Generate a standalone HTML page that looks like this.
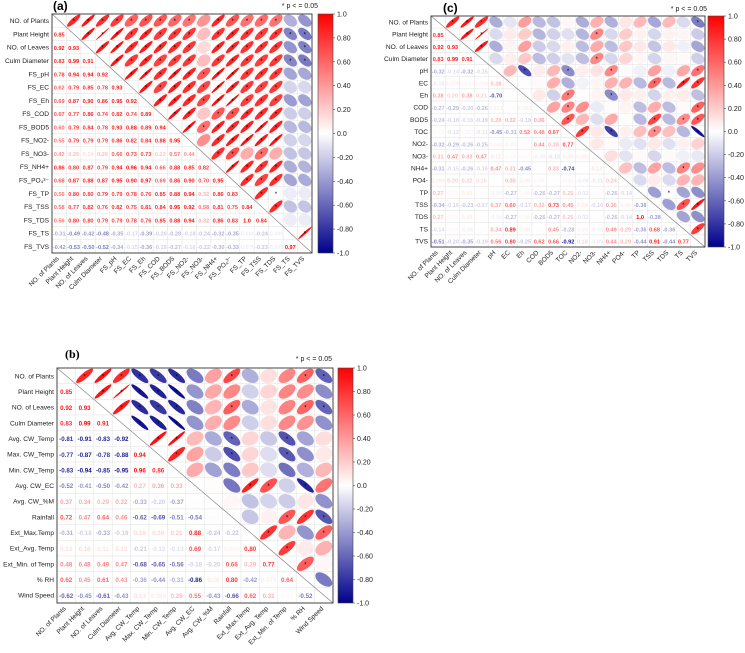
<!DOCTYPE html>
<html><head><meta charset="utf-8">
<style>
html,body{margin:0;padding:0;background:#fff;}
svg{display:block;font-family:"Liberation Sans",Arial,sans-serif;}
</style></head>
<body>
<svg id="fig" width="745" height="653" viewBox="0 0 745 653" xmlns="http://www.w3.org/2000/svg"></svg>
<script>
// ---------- Panel (a) data ----------
const labelsA = ["NO. of Plants","Plant Height","NO. of Leaves","Culm Diameter","FS_pH","FS_EC","FS_Eh","FS_COD","FS_BOD5","FS_NO2-","FS_NO3-","FS_NH4+","FS_PO\u2084\u00b3\u207b","FS_TP","FS_TSS","FS_TDS","FS_TS","FS_TVS"];
const lowerA = [
[],
[.85],
[.92,.93],
[.83,.99,.91],
[.78,.94,.94,.92],
[.62,.79,.85,.78,.93],
[.69,.87,.90,.86,.95,.92],
[.67,.77,.86,.74,.82,.74,.89],
[.60,.79,.84,.78,.93,.88,.89,.94],
[.55,.79,.79,.79,.86,.82,.84,.88,.95],
[.42,.25,.14,.26,.66,.73,.73,.22,.57,.44],
[.86,.80,.87,.79,.94,.96,.94,.66,.88,.85,.82],
[.68,.87,.88,.87,.95,.90,.97,.69,.86,.90,.70,.95],
[.56,.80,.80,.79,.79,.78,.76,.85,.88,.94,.32,.86,.83],
[.58,.77,.82,.76,.82,.75,.81,.84,.95,.92,.58,.81,.75,.84],
[.56,.80,.80,.79,.79,.78,.76,.85,.88,.94,.32,.86,.83,1.0,.84],
[-.31,-.49,-.42,-.48,-.35,-.17,-.39,-.20,-.28,-.18,-.24,-.32,-.35,-.069,-.24,-.069],
[-.42,-.53,-.50,-.52,-.34,-.15,-.36,-.19,-.27,-.16,-.22,-.30,-.33,-.076,-.23,-.076,.97]
];
// ---------- Panel (c) data ----------
const labelsC = ["NO. of Plants","Plant Height","NO. of Leaves","Culm Diameter","pH","EC","Eh","COD","BOD5","TOC","NO2-","NO3-","NH4+","PO4-","TP","TSS","TDS","TS","TVS"];
const lowerC = [
[],
[.85],
[.92,.93],
[.83,.99,.91],
[-.32,-.14,-.32,-.15],
[-.10,.078,.043,.066,.28],
[.38,.20,.38,.21,-.70,.005],
[-.27,-.29,-.20,-.26,.071,.020,.081],
[-.24,-.18,-.15,-.19,.28,.32,-.18,.36],
[.030,-.12,.057,-.11,-.45,-.31,.52,.48,.67],
[-.32,-.29,-.26,-.25,.068,-.050,.010,.44,.28,.77],
[.31,.47,.33,.47,.11,.040,.040,-.080,-.13,.090,.091],
[-.31,-.15,-.26,-.16,.47,.31,-.45,.010,.33,-.74,.010,.13],
[.095,.20,.22,.16,.010,.30,.090,.050,.010,.060,-.080,-.11,.24],
[.27,.050,.090,.030,-.060,-.27,.060,-.26,-.27,.25,-.12,.020,-.26,-.14],
[-.34,-.16,-.23,-.17,.37,.60,-.17,.32,.73,.45,.090,-.16,.36,.080,-.38],
[.27,.050,.090,.030,-.060,-.27,.060,-.26,-.27,.25,-.12,.020,-.26,-.14,1.0,-.38],
[-.14,.040,-.060,.020,.34,.89,.080,.020,.45,-.28,.060,-.060,.49,.29,-.36,.68,-.36],
[-.51,-.20,-.35,-.19,.56,.80,-.25,.62,.66,-.92,.18,-.090,.44,.29,-.44,.91,-.44,.77]
];
// ---------- Panel (b) data ----------
const labelsB = ["NO. of Plants","Plant Height","NO. of Leaves","Culm Diameter","Avg. CW_Temp","Max. CW_Temp","Min. CW_Temp","Avg. CW_EC","Avg. CW_%M","Rainfall","Ext_Max.Temp","Ext_Avg. Temp","Ext_Min. of Temp","% RH","Wind Speed"];
const lowerB = [
[],
[.85],
[.92,.93],
[.83,.99,.91],
[-.81,-.91,-.83,-.92],
[-.77,-.87,-.78,-.88,.94],
[-.83,-.94,-.85,-.95,.96,.86],
[-.52,-.41,-.50,-.42,.27,.36,.33],
[.37,.34,.29,.32,-.33,-.20,-.37,.010],
[.72,.47,.64,.46,-.62,-.69,-.51,-.54,.030],
[-.31,-.18,-.33,-.19,.16,.16,.21,.88,-.24,-.22],
[.13,.16,.11,.13,-.21,-.13,-.13,.69,-.17,.054,.80],
[.48,.48,.49,.47,-.68,-.65,-.56,-.18,-.20,.66,.29,.77],
[.62,.45,.61,.43,-.36,-.44,-.31,-.86,.10,.80,-.42,.079,.64],
[-.62,-.45,-.61,-.43,.13,.089,.28,.55,-.43,-.66,.62,.31,.030,-.52]
];
const cbTicks = ["1.0","0.80","0.60","0.40","0.20","0.0","-0.20","-0.40","-0.60","-0.80","-1.0"];

const NS="http://www.w3.org/2000/svg";
const svg=document.getElementById('fig');
function mk(tag,attrs,parent){const e=document.createElementNS(NS,tag);for(const k in attrs)e.setAttribute(k,attrs[k]);(parent||svg).appendChild(e);return e;}
function col(r){
  r=Math.max(-1,Math.min(1,r));
  let c;
  if(r>=0){c=[255,Math.round(255*(1-r)),Math.round(255*(1-r))];}
  else{const t=-r;c=[Math.round(255*(1-t)),Math.round(255*(1-t)),Math.round(255-(255-139)*t)];}
  return `rgb(${c[0]},${c[1]},${c[2]})`;
}
function fmt(v){
  if(Math.abs(v)>=0.995)return v<0?"-1.0":"1.0";
  if(Math.abs(v)<0.1){let s=v.toFixed(3).replace(/0+$/,'');return s;}
  return v.toFixed(2);
}
function val(lower,i,j){const row=lower[i]||[];const v=row[j];return (typeof v==='number')?v:0;}
function full(lower,n){const m=[];for(let i=0;i<n;i++){m.push([]);for(let j=0;j<n;j++){m[i][j]=i===j?1:(i>j?val(lower,i,j):val(lower,j,i));}}return m;}

function panel(cfg){
  const n=cfg.labels.length, M=full(cfg.lower,n);
  const g=mk('g',{});
  
  
  const cw=(cfg.x1-cfg.x0)/n, ch=(cfg.y1-cfg.y0)/n;
  const X=j=>cfg.x0+j*cw, Y=i=>cfg.y0+i*ch;
  for(let i=0;i<n;i++)for(let j=0;j<n;j++){
    const c=mk('rect',{x:X(j),y:Y(i),width:cw,height:ch,fill:'#fff',stroke:'#e4e4e4','stroke-width':0.5},g);
    
    
  }
  for(let i=0;i<n;i++)for(let j=0;j<n;j++){
    const r=M[i][j];
    const cx=X(j)+cw/2, cy=Y(i)+ch/2;
    if(j>i){
      const A=Math.sqrt(1+r),B=Math.sqrt(Math.max(0,1-r));
      let d='';
      for(let k=0;k<=40;k++){const t=k/40*2*Math.PI;
        const px=(A*Math.cos(t)+B*Math.sin(t))/Math.SQRT2, py=(-A*Math.cos(t)+B*Math.sin(t))/Math.SQRT2;
        d+=(k?'L':'M')+(cx+px*0.46*cw).toFixed(2)+' '+(cy+py*0.46*ch).toFixed(2);}
      const e=mk('path',{d:d+'Z',fill:col(r),stroke:'none'},g);
      
      
      if(Math.abs(r)>=cfg.star){
        const s=mk('text',{x:cx,y:cy+2.5,'font-size':6,'text-anchor':'middle',fill:'#000'},g);
        s.textContent='*';
        
        
      }
    } else if(j<i){
      const t=mk('text',{x:cx,y:cy+2.6,'font-size':cfg.fs,'font-weight':'bold','text-anchor':'middle',fill:col(r)},g);
      t.textContent=fmt(r);
      
      
    }
  }
  const dl=mk('line',{x1:cfg.x0,y1:cfg.y0,x2:cfg.x1,y2:cfg.y1,stroke:'#888','stroke-width':0.7},g);
  
  
  const bx=mk('rect',{x:cfg.x0,y:cfg.y0,width:cfg.x1-cfg.x0,height:cfg.y1-cfg.y0,fill:'none',stroke:'#444','stroke-width':1},g);
  
  
  for(let i=0;i<n;i++){
    const t=mk('text',{x:cfg.x0-3,y:Y(i)+ch/2+2.5,'font-size':cfg.lfs,'text-anchor':'end',fill:'#222'},g);
    t.textContent=cfg.labels[i];
    
    
    const bxp=X(i)+cw/2, byp=cfg.y1+6;
    const b=mk('text',{x:bxp,y:byp,'font-size':cfg.lfs,'text-anchor':'end',fill:'#222',transform:`rotate(-45 ${bxp} ${byp})`},g);
    b.textContent=cfg.labels[i];
    
    
  }
  const gid='grad'+cfg.id;
  const defs=mk('defs',{},g);
  const lg=mk('linearGradient',{id:gid,x1:0,y1:0,x2:0,y2:1},defs);
  for(let k=0;k<=20;k++){mk('stop',{offset:(k/20),'stop-color':col(1-k/10)},lg);}
  const cb=mk('rect',{x:cfg.cbx,y:cfg.y0,width:cfg.cbw,height:cfg.y1-cfg.y0,fill:`url(#${gid})`,stroke:'#444','stroke-width':0.6},g);
  
  
  for(let k=0;k<cbTicks.length;k++){
    const ty=cfg.y0+k*(cfg.y1-cfg.y0)/(cbTicks.length-1);
    mk('line',{x1:cfg.cbx+cfg.cbw,y1:ty,x2:cfg.cbx+cfg.cbw+2,y2:ty,stroke:'#444','stroke-width':0.6},g);
    const t=mk('text',{x:cfg.cbx+cfg.cbw+4,y:ty+2.5,'font-size':7,fill:'#222'},g);
    t.textContent=cbTicks[k];
    
    
  }
  const tt=mk('text',{x:cfg.tx,y:cfg.ty,'font-size':cfg.tfs,'font-weight':'bold',fill:'#000','font-family':cfg.serif?'"Liberation Serif",serif':'"Liberation Sans",sans-serif'},g);
  tt.textContent=cfg.title;
  
  
  const pn=mk('text',{x:cfg.px,y:cfg.py,'font-size':7,'text-anchor':'end',fill:'#222'},g);
  pn.textContent='* p < = 0.05';
  
  
}
panel({id:'a',name:'panel-a',labels:labelsA,lower:lowerA,x0:52,x1:312,y0:14,y1:253,cbx:318,cbw:15,fs:5.6,lfs:6.6,star:0.45,title:'(a)',tx:53,ty:10,tfs:12,px:318,py:8});
panel({id:'c',name:'panel-c',labels:labelsC,lower:lowerC,x0:431,x1:705,y0:16,y1:247,cbx:708,cbw:16,fs:5.6,lfs:6.6,star:0.45,title:'(c)',tx:443,ty:12,tfs:12,px:707,py:11});
panel({id:'b',name:'panel-b',labels:labelsB,lower:lowerB,x0:57,x1:333,y0:368,y1:603,cbx:338,cbw:15,fs:6.2,lfs:6.6,star:0.6,title:'(b)',tx:65,ty:358,tfs:12,px:332,py:361,serif:true});
</script>
</body></html>
